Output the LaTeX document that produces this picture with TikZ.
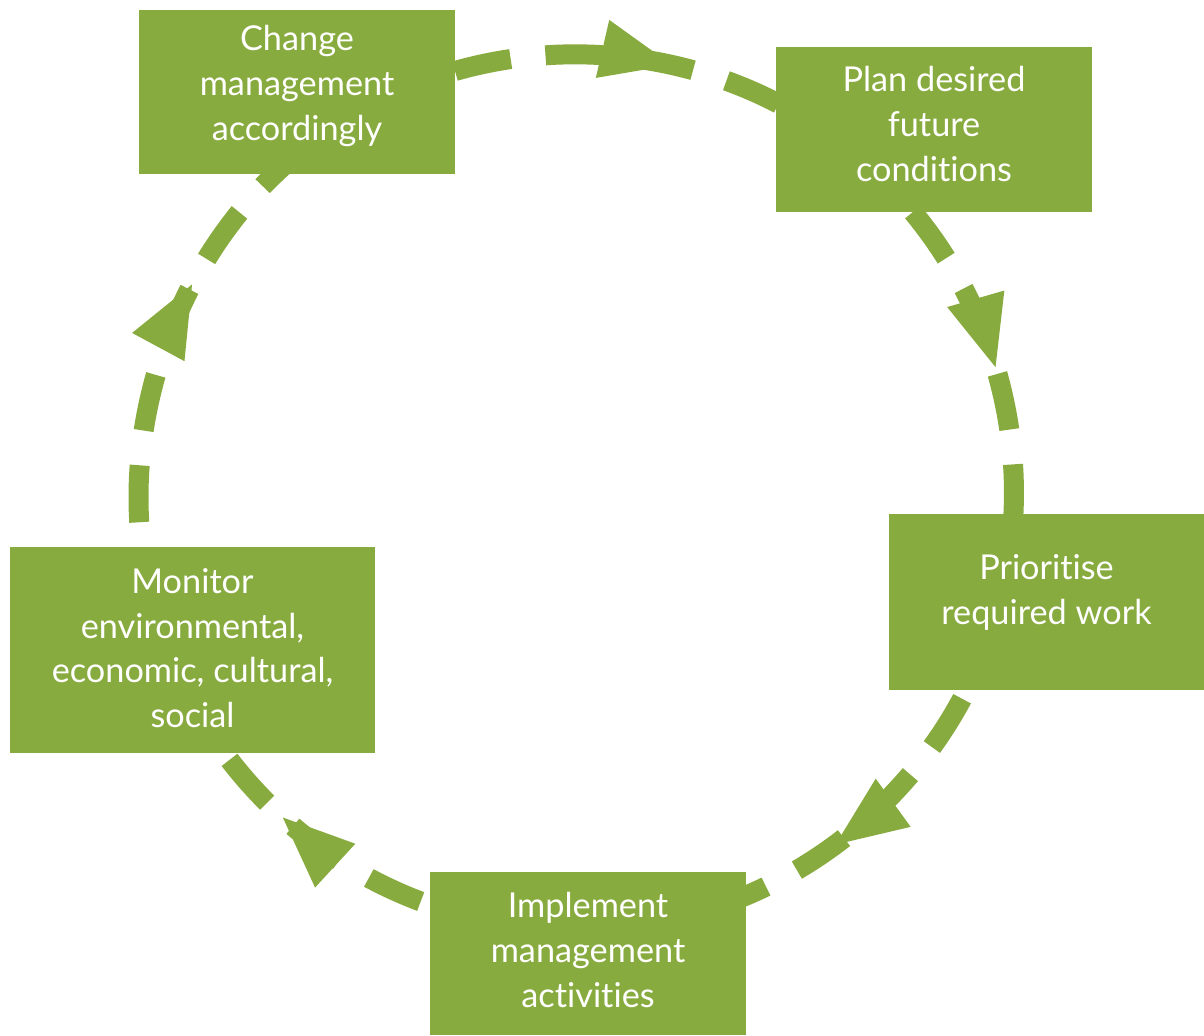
\documentclass[tikz,border=0pt]{standalone}
\usepackage{fontspec}
\setmainfont{Lato}[Ligatures=NoCommon]
\usepackage{tikz}
\usetikzlibrary{arrows.meta,decorations.markings,calc,backgrounds}
\definecolor{leaf}{RGB}{136,171,63}
\tikzset{
->-/.style={decoration={markings, mark=at position #1 with {\arrow{Triangle[length=1.5cm,width=1.06cm]}}},postaction={decorate}},
->-/.default = .5,
FLOW/.style ={draw=leaf,line width=0.4cm,line cap=butt,dash pattern=on 1.14cm off 0.7cm,dash phase=1.54cm,looseness=0.88},
BOX/.style={fill=leaf, draw=none, text=white, align=center, inner sep=0pt,
  font=\fontsize{19.5}{25.6}\selectfont},
}

\begin{document}
\begin{tikzpicture} %monitoring cycle
	\useasboundingbox (0,0) rectangle (24.08,20.7);
	\node[BOX,minimum width=6.32cm,minimum height=3.28cm,text depth=0.38cm] (chg) at (5.94,18.86) {Change\\management\\accordingly};
	\node[BOX,minimum width=6.32cm,minimum height=3.30cm,text depth=0.22cm] (plan) at (18.68,18.11) {Plan desired\\future\\conditions};
	\node[BOX,minimum width=6.30cm,minimum height=3.52cm,text depth=0.49cm] (prio) at (20.93,8.66) {Prioritise\\required work};
	\node[BOX,minimum width=6.32cm,minimum height=3.26cm,text depth=0.16cm] (impl) at (11.76,1.63) {Implement\\management\\activities};
	\node[BOX,minimum width=7.30cm,minimum height=4.12cm,text depth=0.08cm] (mon) at (3.85,7.70) {Monitor\\environmental,\\economic, cultural,\\social};
	% points on the big circle, just inside the boxes
	\coordinate (c) at (11.52,10.86);
	\coordinate (chg-out) at ($(c)+(108:8.76)$);
	\coordinate (plan-in) at ($(c)+(60.8:8.76)$);
	\coordinate (plan-out) at ($(c)+(41.7:8.76)$);
	\coordinate (prio-in) at ($(c)+(-4.9:8.76)$);
	\coordinate (prio-out) at ($(c)+(-24.9:8.76)$);
	\coordinate (impl-in) at ($(c)+(-69.2:8.76)$);
	\coordinate (impl-out) at ($(c)+(-107.5:8.76)$);
	\coordinate (mon-in) at ($(c)+(-145.4:8.76)$);
	\coordinate (mon-out) at ($(c)+(189.2:8.76)$);
	\coordinate (chg-in) at ($(c)+(131.5:8.76)$);
\begin{scope}[on background layer]
	\path[FLOW,->-=.66] (chg-out) to[bend left=23.6] (plan-in);
	\path[FLOW,->-=.55] (plan-out) to[bend left=23.3] (prio-in);
	\path[FLOW,->-=.66,dash phase=1.34cm] (prio-out) to[bend left=22.15] (impl-in);
	\path[FLOW,->-=.66,dash phase=1.34cm] (impl-out) to[bend left=18.95] (mon-in);
	\path[FLOW,->-=.66,dash phase=1.04cm] (mon-out) to[bend left=28.85] (chg-in);
\end{scope}
\end{tikzpicture}
\end{document}
